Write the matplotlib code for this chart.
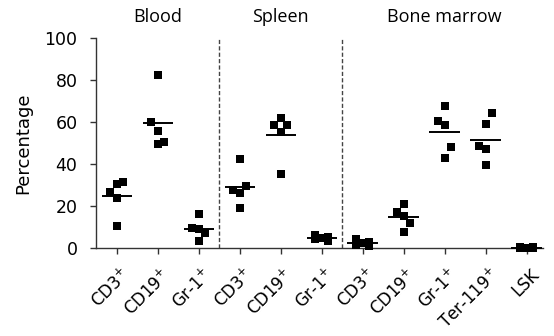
import numpy as np
import matplotlib
matplotlib.use("Agg")
import matplotlib.pyplot as plt
import matplotlib.transforms as mtransforms

# ---- data ----
categories = ["CD3$^{+}$", "CD19$^{+}$", "Gr-1$^{+}$",
              "CD3$^{+}$", "CD19$^{+}$", "Gr-1$^{+}$",
              "CD3$^{+}$", "CD19$^{+}$", "Gr-1$^{+}$", "Ter-119$^{+}$", "LSK"]
blood_cd3 = [30.4, 23.7, 10.7, 26.9, 31.6]
blood_cd19 = [82.3, 55.7, 49.5, 60.1, 50.3]
blood_gr1 = [16.3, 9.0, 3.4, 9.5, 7.5]
spleen_cd3 = [42.3, 26.4, 19.3, 27.7, 29.5]
spleen_cd19 = [61.7, 55.1, 35.3, 58.5, 58.5]
spleen_gr1 = [5.0, 6.5, 3.5, 5.5, 4.5]
bm_cd3 = [2.5, 4.5, 1.0, 3.0, 1.5]
bm_cd19 = [20.9, 15.3, 7.9, 17.4, 12.2]
bm_gr1 = [67.7, 58.5, 42.7, 60.4, 48.0]
bm_ter119 = [58.9, 47.0, 39.5, 48.7, 64.1]
bm_lsk = [0.3, 0.5, 0.1, 0.4, 0.2]
groups = ["Blood", "Spleen", "Bone marrow"]
group_sizes = [3, 3, 5]
yticks = [0, 20, 40, 60, 80, 100]

series = [blood_cd3, blood_cd19, blood_gr1, spleen_cd3, spleen_cd19, spleen_gr1,
          bm_cd3, bm_cd19, bm_gr1, bm_ter119, bm_lsk]

# ---- swarm placement (deterministic) ----
SLOT = 0.163   # horizontal step in category units
T = 5.4        # vertical closeness threshold in data units


def swarm(vals):
    placed = []  # (slot, value)
    out = []
    for v in vals:
        def conflicts(s):
            return [abs(v - pv) for ps, pv in placed if ps == s and abs(v - pv) < T]
        if not conflicts(0):
            s = 0
        else:
            nl = sum(1 for ps, _ in placed if ps < 0)
            nr = sum(1 for ps, _ in placed if ps > 0)
            first = -1 if nl <= nr else 1
            if not conflicts(first):
                s = first
            elif not conflicts(-first):
                s = -first
            else:
                def mind(s):
                    d = [abs(v - pv) for ps, pv in placed if ps == s]
                    return min(d) if d else 1e9
                s = max([0, first, -first], key=mind)
        placed.append((s, v))
        out.append(s)
    return np.array(out)


plt.rcParams['font.family'] = ['DejaVu Sans']
plt.rcParams['mathtext.fontset'] = 'dejavusans'

fig = plt.figure(figsize=(5.54, 3.36), dpi=100)
ax = fig.add_axes([0.1733, 0.261, 0.8069, 0.6268])

for i, vals in enumerate(series):
    slots = swarm(vals)
    xs = i + slots * SLOT
    ax.plot(xs, vals, 's', color='black', ms=6.3, mew=0, clip_on=False, zorder=3)
    m = np.mean(vals)
    ax.plot([i - 0.37, i + 0.37], [m, m], color='black', lw=1.4, zorder=4,
            solid_capstyle='butt', clip_on=False)

# separators between groups
bounds = np.cumsum(group_sizes)[:-1] - 0.5
for b in bounds:
    ax.axvline(b, ymin=0, ymax=1, color='#444444', lw=1.0, ls=(0, (3, 1.6)), zorder=1)

# group titles
trans = mtransforms.blended_transform_factory(ax.transData, ax.transAxes)
starts = np.concatenate([[0], np.cumsum(group_sizes)[:-1]])
for g, st, n in zip(groups, starts, group_sizes):
    ax.text(st + (n - 1) / 2, 1.097, g, transform=trans, ha='center', va='center',
            fontsize=13, family=['Open Sans', 'DejaVu Sans'])

ax.set_xlim(-0.505, 10.4)
ax.set_ylim(0, 100)
ax.set_yticks(yticks)
ax.set_xticks(range(len(categories)))
ax.set_xticklabels(categories, rotation=45, ha='right', rotation_mode='anchor',
                   fontsize=12)
ax.tick_params(axis='y', labelsize=12.5, length=4.3, width=1, color='#333333', pad=9)
ax.tick_params(axis='x', length=4.3, width=1, color='#333333', pad=8)
offset = mtransforms.ScaledTranslation(3 / 100, 0, fig.dpi_scale_trans)
for lab in ax.get_xticklabels():
    lab.set_transform(lab.get_transform() + offset)
ax.set_ylabel("Percentage", fontsize=13, labelpad=9)

for s in ['top', 'right']:
    ax.spines[s].set_visible(False)
for s in ['left', 'bottom']:
    ax.spines[s].set_color('#333333')
    ax.spines[s].set_linewidth(1)

fig.savefig("out.png", dpi=100)
